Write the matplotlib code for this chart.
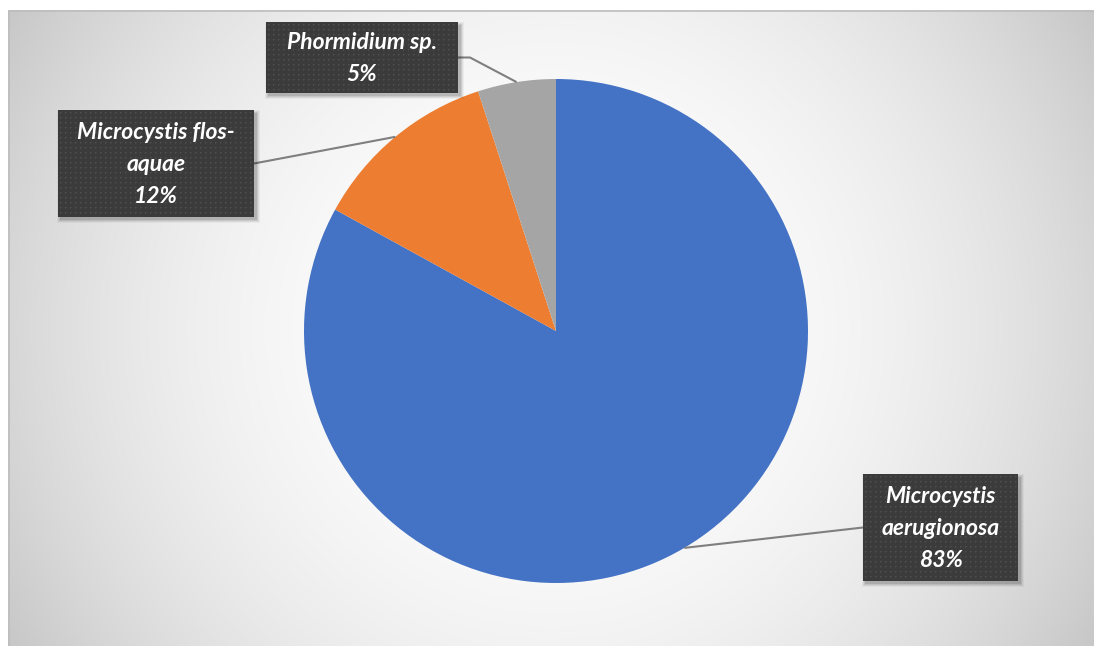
import numpy as np
import matplotlib.pyplot as plt
from matplotlib.patches import Rectangle

# algae share of the bloom
species = ["Microcystis\naerugionosa", "Microcystis flos-\naquae", "Phormidium sp."]
shares = [83, 12, 5]
colors = ["#4472C4", "#ED7D31", "#A5A5A5"]

# label boxes in pixels: left, top, width, height (y measured from the top)
boxes = [(863, 474, 155, 107), (58, 110, 196, 107), (266, 22, 192, 71)]

W, H = 1094, 646
fig = plt.figure(figsize=(W / 100, H / 100), dpi=100)
ax = fig.add_axes([0, 0, 1, 1])
ax.set_xlim(0, W)
ax.set_ylim(0, H)
ax.axis("off")

# chart area with a radial grey gradient
left, top = 8, 10
py, px = np.mgrid[top:H, left:W] + 0.5
cx, cy = (left + W) / 2, (top + H) / 2
r = np.hypot(px - cx, py - cy) / 635.0
shade = 255 - 57 * np.clip(r, 0, 1.2) ** 2.18
bg = np.dstack([shade, shade, shade]) / 255.0
ax.imshow(bg, extent=(left, W, 0, H - top), origin="upper", zorder=0,
          interpolation="bilinear")
ax.plot([left + 0.5, left + 0.5, W], [0, H - top - 0.5, H - top - 0.5],
        color="#bdbdbd", lw=1.2, zorder=1)

# pie
pc = (556, H - 331)
rad = 252
wedges, _ = ax.pie(shares, colors=colors, startangle=90, counterclock=False,
                   center=pc, radius=rad, frame=True,
                   wedgeprops=dict(linewidth=0))
for w in wedges:
    w.set_zorder(2)
ax.set_xlim(0, W)
ax.set_ylim(0, H)
ax.set_aspect("equal")
ax.axis("off")

# dotted texture for the label boxes
def texture(w, h):
    t = np.full((h, w), 0.235)
    t[2::5, 2::5] = 0.31
    t[2::5, 3::5] = 0.28
    t[3::5, 2::5] = 0.28
    return np.dstack([t, t, t])

for w, name, share, (bx, by, bw, bh) in zip(wedges, species, shares, boxes):
    x0, y0 = bx, H - by - bh
    # soft shadow
    for k, a in enumerate([0.10, 0.08, 0.06, 0.04]):
        ax.add_patch(Rectangle((x0 + 2 - k, y0 - 3 - k), bw + 2 * k + 1, bh + 2 * k,
                               facecolor="black", alpha=a, lw=0, zorder=4))
    ax.imshow(texture(bw, bh), extent=(x0, x0 + bw, y0, y0 + bh),
              origin="upper", interpolation="nearest", zorder=5)
    ax.text(x0 + bw / 2, y0 + bh / 2 - 1, f"{name}\n{share}%", color="white",
            ha="center", va="center", fontsize=16.5, fontfamily="Lato",
            fontweight="bold", fontstyle="italic", linespacing=1.62, zorder=6)

    # leader line from the wedge middle to the box
    ang = np.deg2rad((w.theta1 + w.theta2) / 2)
    ex = pc[0] + rad * np.cos(ang)
    ey = pc[1] + rad * np.sin(ang)
    sx = x0 + bw if ex > x0 + bw else x0
    sy = y0 + bh / 2
    if abs(ex - sx) < 100:
        # short horizontal stub before turning to the wedge
        kx = sx + 12 if ex > sx else sx - 12
        xs, ys = [sx, kx, ex], [sy, sy, ey]
    else:
        xs, ys = [sx, ex], [sy, ey]
    ax.plot(xs, ys, color="#7f7f7f", lw=1.5, solid_capstyle="butt", zorder=3)

fig.savefig("out.png", dpi=100, facecolor="white")
